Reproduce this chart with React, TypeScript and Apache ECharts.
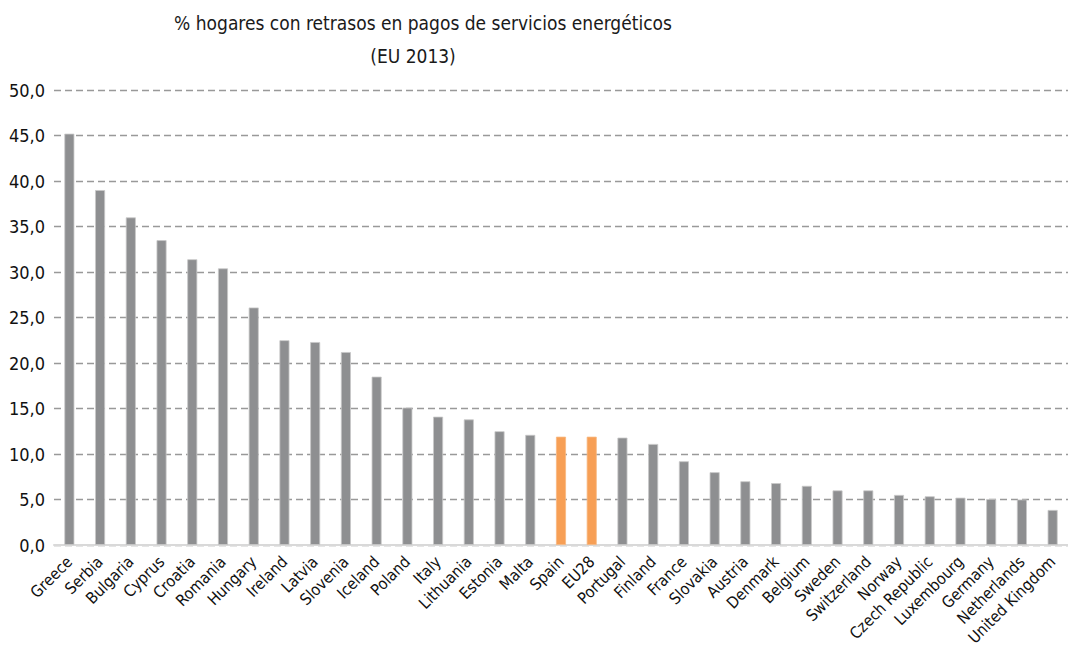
import React, { useEffect, useRef } from "react";
import * as echarts from "echarts";

const categories = [
  "Greece", "Serbia", "Bulgaria", "Cyprus", "Croatia", "Romania", "Hungary", "Ireland",
  "Latvia", "Slovenia", "Iceland", "Poland", "Italy", "Lithuania", "Estonia", "Malta",
  "Spain", "EU28", "Portugal", "Finland", "France", "Slovakia", "Austria", "Denmark",
  "Belgium", "Sweden", "Switzerland", "Norway", "Czech Republic", "Luxembourg", "Germany",
  "Netherlands", "United Kingdom",
];
const values = [
  45.2, 39.0, 36.0, 33.5, 31.4, 30.4, 26.1, 22.5,
  22.3, 21.2, 18.5, 15.1, 14.1, 13.8, 12.5, 12.1,
  11.9, 11.9, 11.8, 11.1, 9.2, 8.0, 7.0, 6.8,
  6.5, 6.0, 6.0, 5.5, 5.35, 5.2, 5.05, 5.0, 3.85,
];
const highlighted = ["Spain", "EU28"];
const yTicks = { min: 0, max: 50, interval: 5 };
const titleLine1 = "% hogares con retrasos en pagos de servicios energéticos";
const titleLine2 = "(EU 2013)";

const FONT = "'Liberation Sans Narrow', 'DejaVu Sans Condensed', 'Arial Narrow', sans-serif";

export default function App() {
  const ref = useRef<HTMLDivElement>(null);
  useEffect(() => {
    if (!ref.current) return;
    const chart = echarts.init(ref.current, null, { renderer: "svg" });
    chart.setOption({
      animation: false,
      backgroundColor: "#ffffff",
      textStyle: { fontFamily: FONT },
      title: [
        {
          text: titleLine1,
          left: 418,
          top: 8,
          textAlign: "center",
          textStyle: { fontFamily: FONT, fontSize: 19, fontWeight: "normal", color: "#1a1a1a" },
        },
        {
          text: titleLine2,
          left: 408,
          top: 41,
          textAlign: "center",
          textStyle: { fontFamily: FONT, fontSize: 19, fontWeight: "normal", color: "#1a1a1a" },
        },
      ],
      grid: { left: 54, right: -2, top: 90, bottom: 110, containLabel: false },
      xAxis: {
        type: "category",
        data: categories,
        axisLine: { show: true, lineStyle: { color: "#d9d9d9", width: 2 } },
        axisTick: { show: false },
        axisLabel: {
          interval: 0,
          rotate: 45,
          margin: 14,
          fontFamily: FONT,
          fontSize: 16,
          color: "#111111",
        },
      },
      yAxis: {
        type: "value",
        min: yTicks.min,
        max: yTicks.max,
        interval: yTicks.interval,
        axisLine: { show: false },
        axisTick: { show: false },
        axisLabel: {
          margin: 9,
          fontFamily: FONT,
          fontSize: 18,
          color: "#111111",
          formatter: (v: number) => v.toFixed(1).replace(".", ","),
        },
        splitLine: {
          show: true,
          lineStyle: { color: "#999999", width: 1.3, type: [7, 4] },
        },
      },
      series: [
        {
          type: "bar",
          barWidth: 10,
          data: values.map((v, i) => ({
            value: v,
            itemStyle: {
              color: highlighted.includes(categories[i]) ? "#f79f55" : "#8e8f91",
              borderColor: highlighted.includes(categories[i]) ? "#f8b880" : "#c8c8c8",
              borderWidth: 0.8,
            },
          })),
        },
      ],
    });
    return () => chart.dispose();
  }, []);
  return (
    <div
      ref={ref}
      style={{ position: "absolute", left: 0, top: 0, width: 1068, height: 655 }}
    />
  );
}
